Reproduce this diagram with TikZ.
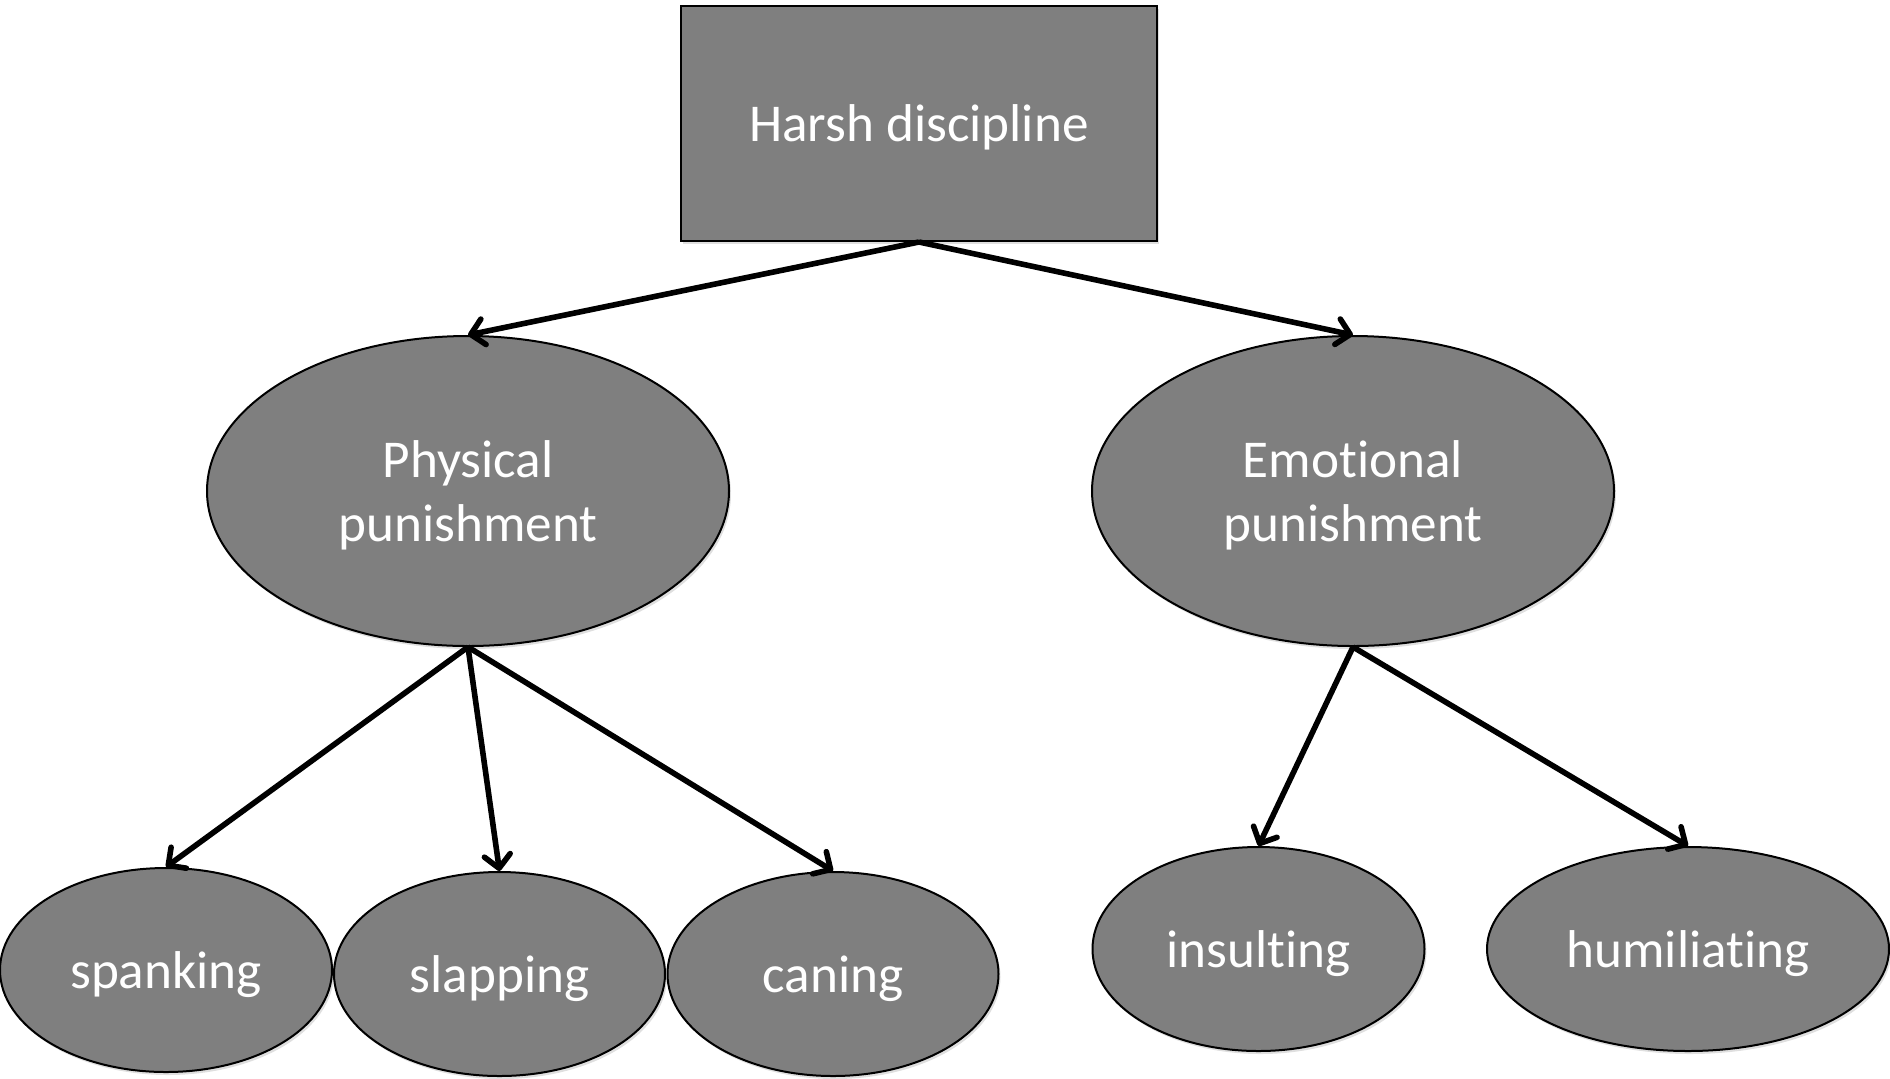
\documentclass[tikz,border=0pt]{standalone}
\usepackage{fontspec}
\setmainfont[Ligatures=CommonOff]{Carlito}
\usetikzlibrary{shapes.geometric,arrows.meta,shadows}
\definecolor{boxgray}{HTML}{7F7F7F}
\tikzset{
  base/.style={draw=black,line width=1pt,fill=boxgray,text=white,inner sep=0pt,
    font=\fontsize{26.6}{32}\selectfont,align=center,text depth=0pt,
    drop shadow={opacity=0.25,shadow xshift=1pt,shadow yshift=-1.5pt}},
  rootbox/.style={base,rectangle,minimum width=238pt,minimum height=117.5pt},
  midell/.style={base,ellipse,minimum width=261pt,minimum height=155pt},
  leafell/.style={base,ellipse,minimum width=#1,minimum height=102pt},
  conn/.style={line width=2.8pt,-{Straight Barb[length=6.5pt,width=13pt,line cap=round,line join=round]}}
}
\begin{document}
\begin{tikzpicture}[x=0.5pt,y=-0.5pt]
\useasboundingbox (0,0) rectangle (1890,1078);
\node[rootbox] (root) at (919,123.5) {Harsh discipline};
\node[midell] (phys) at (468,491) {Physical\\punishment};
\node[midell] (emo) at (1353,491) {Emotional\\punishment};
\node[leafell=166pt] (spank) at (166,970) {spanking};
\node[leafell=165.5pt] (slap) at (499.5,974) {slapping};
\node[leafell=165.5pt] (cane) at (833,974) {caning};
\node[leafell=166pt] (insult) at (1258.5,949) {insulting};
\node[leafell=201pt] (humil) at (1688,949) {humiliating};
\draw[conn] (root.south) -- (phys.north);
\draw[conn] (root.south) -- (emo.north);
\draw[conn] (phys.south) -- (spank.north);
\draw[conn] (phys.south) -- (slap.north);
\draw[conn] (phys.south) -- (cane.north);
\draw[conn] (emo.south) -- (insult.north);
\draw[conn] (emo.south) -- (humil.north);
\end{tikzpicture}
\end{document}
